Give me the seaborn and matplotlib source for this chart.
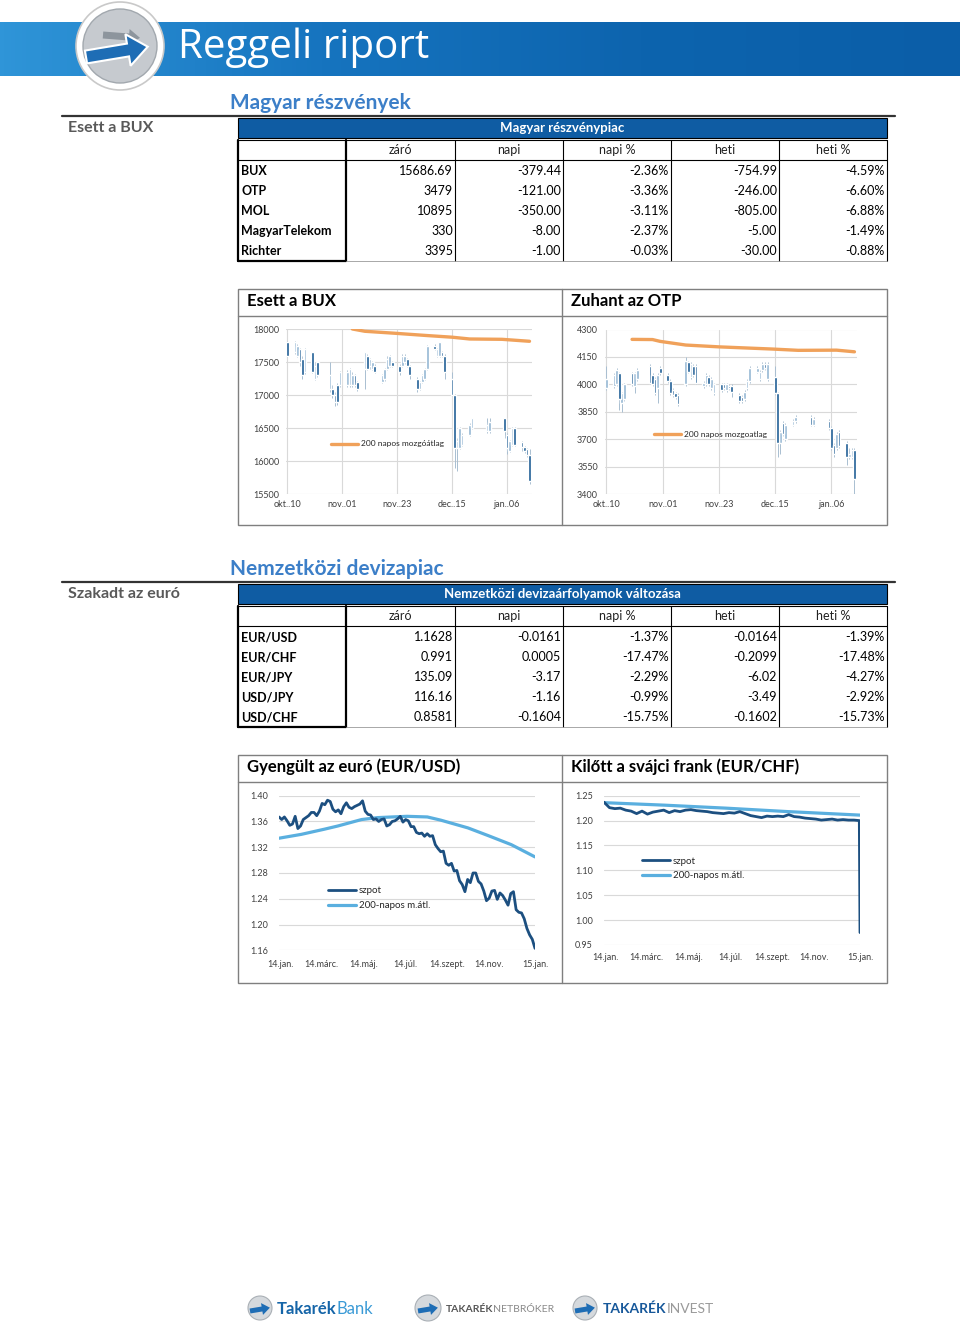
import numpy as np
import pandas as pd
import matplotlib
matplotlib.use("Agg")
import matplotlib.pyplot as plt
from matplotlib.patches import Rectangle, Circle, FancyArrow
from matplotlib.colors import LinearSegmentedColormap
import seaborn as sns

# ---------------- data ----------------
col_headers = ["záró", "napi", "napi %", "heti", "heti %"]

stock_names = ["BUX", "OTP", "MOL", "MagyarTelekom", "Richter"]
stock_zaro = ["15686.69", "3479", "10895", "330", "3395"]
stock_napi = ["-379.44", "-121.00", "-350.00", "-8.00", "-1.00"]
stock_napi_pct = ["-2.36%", "-3.36%", "-3.11%", "-2.37%", "-0.03%"]
stock_heti = ["-754.99", "-246.00", "-805.00", "-5.00", "-30.00"]
stock_heti_pct = ["-4.59%", "-6.60%", "-6.88%", "-1.49%", "-0.88%"]

fx_names = ["EUR/USD", "EUR/CHF", "EUR/JPY", "USD/JPY", "USD/CHF"]
fx_zaro = ["1.1628", "0.991", "135.09", "116.16", "0.8581"]
fx_napi = ["-0.0161", "0.0005", "-3.17", "-1.16", "-0.1604"]
fx_napi_pct = ["-1.37%", "-17.47%", "-2.29%", "-0.99%", "-15.75%"]
fx_heti = ["-0.0164", "-0.2099", "-6.02", "-3.49", "-0.1602"]
fx_heti_pct = ["-1.39%", "-17.48%", "-4.27%", "-2.92%", "-15.73%"]

trade_days = ["2014-10-10", "2014-10-13", "2014-10-14", "2014-10-15", "2014-10-16", "2014-10-17",
              "2014-10-20", "2014-10-21", "2014-10-22", "2014-10-27", "2014-10-28", "2014-10-29",
              "2014-10-30", "2014-10-31", "2014-11-03", "2014-11-04", "2014-11-05", "2014-11-06",
              "2014-11-07", "2014-11-10", "2014-11-11", "2014-11-12", "2014-11-13", "2014-11-14",
              "2014-11-17", "2014-11-18", "2014-11-19", "2014-11-20", "2014-11-21", "2014-11-24",
              "2014-11-25", "2014-11-26", "2014-11-27", "2014-11-28", "2014-12-01", "2014-12-02",
              "2014-12-03", "2014-12-04", "2014-12-05", "2014-12-08", "2014-12-09", "2014-12-10",
              "2014-12-11", "2014-12-12", "2014-12-15", "2014-12-16", "2014-12-17", "2014-12-18",
              "2014-12-19", "2014-12-22", "2014-12-23", "2014-12-29", "2014-12-30", "2015-01-05",
              "2015-01-06", "2015-01-07", "2015-01-08", "2015-01-09", "2015-01-12", "2015-01-13",
              "2015-01-14", "2015-01-15"]

bux_open = [17800, 17650, 17600, 17700, 17550, 17350, 17650, 17250, 17500, 17100, 17100, 17000,
            17150, 17150, 17150, 17150, 17150, 17300, 17200, 17400, 17600, 17450, 17400, 17450,
            17200, 17250, 17400, 17450, 17500, 17450, 17450, 17500, 17550, 17450, 17250, 17100,
            17200, 17250, 17400, 17750, 17600, 17600, 17650, 17600, 17250, 17000, 16200, 16200,
            16250, 16400, 16500, 16450, 16450, 16650, 16400, 16150, 16250, 16500, 16290, 16210,
            16190, 16090]
bux_high = [17820, 17820, 17780, 17720, 17600, 17720, 17660, 17500, 17510, 17500, 17150, 17050,
            17180, 17360, 17380, 17420, 17350, 17320, 17220, 17660, 17620, 17570, 17520, 17470,
            17320, 17420, 17600, 17610, 17520, 17470, 17620, 17620, 17570, 17460, 17280, 17220,
            17320, 17420, 17760, 17780, 17720, 17810, 17670, 17620, 17350, 17020, 16350, 16520,
            16420, 16580, 16660, 16650, 16650, 16660, 16420, 16320, 16520, 16520, 16300, 16230,
            16200, 16180]
bux_low = [17580, 17620, 17580, 17450, 17250, 17320, 17330, 17230, 17280, 17050, 16950, 16830,
           16850, 17130, 17130, 17130, 17120, 17130, 17060, 17100, 17380, 17400, 17380, 17330,
           17180, 17220, 17380, 17430, 17430, 17300, 17430, 17480, 17430, 17250, 17050, 17080,
           17180, 17230, 17380, 17680, 17580, 17580, 17580, 17250, 16980, 15900, 15850, 16180,
           16230, 16380, 16480, 16430, 16430, 16350, 16100, 16130, 16230, 16230, 16150, 16120,
           16060, 15650]
bux_close = [17600, 17800, 17750, 17500, 17300, 17700, 17350, 17450, 17300, 17300, 17000, 16900,
             16900, 17350, 17350, 17400, 17300, 17150, 17100, 17650, 17400, 17550, 17500, 17350,
             17300, 17400, 17550, 17600, 17450, 17350, 17600, 17600, 17450, 17300, 17100, 17200,
             17300, 17400, 17750, 17700, 17700, 17800, 17600, 17350, 17000, 16200, 16300, 16500,
             16400, 16550, 16650, 16550, 16600, 16450, 16200, 16300, 16500, 16250, 16210, 16160,
             16090, 15690]

otp_open = [3980, 3990, 4000, 4060, 3900, 3920, 4060, 3990, 4030, 4100, 4050, 4030,
            3980, 4090, 4050, 4020, 3970, 3950, 3940, 4000, 4120, 4040, 4100, 4100,
            3990, 4000, 4040, 3980, 3950, 4000, 4000, 3970, 3990, 3990, 3940, 3930,
            3920, 3980, 4020, 4070, 4030, 4080, 4110, 4030, 4040, 3950, 3680, 3790,
            3700, 3780, 3800, 3820, 3780, 3800, 3760, 3670, 3650, 3740, 3680, 3600,
            3600, 3640]
otp_high = [4100, 4060, 4090, 4070, 3960, 4010, 4070, 4070, 4090, 4110, 4060, 4040,
            4060, 4100, 4060, 4030, 3980, 3960, 3950, 4150, 4130, 4120, 4110, 4110,
            4020, 4060, 4050, 4040, 4010, 4010, 4010, 4010, 4000, 4000, 3950, 3940,
            3970, 4030, 4100, 4100, 4080, 4120, 4120, 4120, 4100, 3960, 3750, 3800,
            3790, 3810, 3830, 3830, 3820, 3810, 3770, 3680, 3740, 3750, 3690, 3650,
            3650, 3650]
otp_low = [3970, 3980, 3990, 3860, 3850, 3910, 3990, 3950, 4020, 4000, 3990, 3940,
           3900, 4050, 4010, 3940, 3930, 3920, 3880, 3990, 4060, 4030, 4040, 4000,
           3980, 3990, 3990, 3970, 3940, 3960, 3970, 3960, 3970, 3930, 3900, 3900,
           3910, 3970, 4010, 4060, 4020, 4070, 4080, 4020, 3940, 3600, 3620, 3720,
           3690, 3770, 3790, 3770, 3770, 3750, 3640, 3600, 3640, 3650, 3560, 3590,
           3590, 3400]
otp_close = [4030, 4050, 4080, 3920, 3950, 4000, 4000, 4060, 4080, 4010, 4000, 3950,
             4050, 4060, 4020, 3950, 3940, 3930, 3890, 4130, 4070, 4110, 4050, 4010,
             4010, 4050, 4000, 4030, 4000, 3970, 3980, 4000, 3980, 3960, 3910, 3910,
             3960, 4020, 4090, 4090, 4070, 4110, 4090, 4110, 3950, 3680, 3740, 3730,
             3780, 3800, 3820, 3780, 3810, 3760, 3650, 3620, 3730, 3660, 3600, 3620,
             3640, 3480]

bux_ma_dates = ["2014-11-05", "2014-11-10", "2014-11-22", "2014-12-05", "2014-12-15",
                "2014-12-22", "2015-01-04", "2015-01-15"]
bux_ma = [18005, 17970, 17940, 17905, 17880, 17853, 17848, 17818]
otp_ma_dates = ["2014-10-20", "2014-10-28", "2014-10-31", "2014-11-10", "2014-11-23",
                "2014-12-14", "2014-12-24", "2015-01-08", "2015-01-15"]
otp_ma = [4246, 4245, 4235, 4215, 4205, 4193, 4186, 4187, 4178]

candle_ticks = ["2014-10-10", "2014-11-01", "2014-11-23", "2014-12-15", "2015-01-06"]
candle_ticklabels = ["okt..10", "nov..01", "nov..23", "dec..15", "jan..06"]

eurusd_spot = [1.367, 1.363, 1.367, 1.361, 1.354, 1.356, 1.368, 1.349, 1.353, 1.363, 1.366, 1.369,
               1.374, 1.374, 1.369, 1.376, 1.388, 1.386, 1.393, 1.391, 1.379, 1.375, 1.378, 1.372,
               1.383, 1.389, 1.382, 1.380, 1.383, 1.385, 1.387, 1.392, 1.376, 1.371, 1.370, 1.363,
               1.364, 1.360, 1.363, 1.364, 1.353, 1.355, 1.360, 1.361, 1.364, 1.368, 1.359, 1.363,
               1.361, 1.352, 1.352, 1.343, 1.341, 1.342, 1.337, 1.341, 1.337, 1.338, 1.324, 1.318,
               1.313, 1.314, 1.295, 1.292, 1.295, 1.283, 1.284, 1.268, 1.262, 1.251, 1.270, 1.265,
               1.280, 1.280, 1.267, 1.263, 1.252, 1.237, 1.241, 1.252, 1.253, 1.239, 1.249, 1.245,
               1.238, 1.230, 1.248, 1.251, 1.223, 1.219, 1.218, 1.209, 1.194, 1.184, 1.177, 1.163]
eurusd_ma_dates = ["2014-01-02", "2014-02-04", "2014-03-10", "2014-03-30", "2014-05-04",
                   "2014-05-28", "2014-07-10", "2014-08-09", "2014-08-29", "2014-10-08",
                   "2014-11-07", "2014-12-11", "2015-01-15"]
eurusd_ma = [1.334, 1.340, 1.348, 1.353, 1.363, 1.366, 1.368, 1.367, 1.362, 1.350, 1.338,
             1.324, 1.305]

eurchf_spot = [1.237, 1.226, 1.224, 1.225, 1.221, 1.219, 1.214, 1.219, 1.213, 1.217, 1.219, 1.221,
               1.216, 1.220, 1.218, 1.221, 1.222, 1.220, 1.219, 1.218, 1.216, 1.215, 1.214, 1.216,
               1.215, 1.218, 1.214, 1.210, 1.208, 1.206, 1.209, 1.208, 1.209, 1.208, 1.212, 1.208,
               1.207, 1.205, 1.204, 1.203, 1.201, 1.202, 1.203, 1.201, 1.202, 1.201, 1.201, 1.200,
               0.975]
eurchf_ma_dates = ["2014-01-02", "2014-04-01", "2014-07-01", "2014-10-01", "2015-01-15"]
eurchf_ma = [1.236, 1.231, 1.225, 1.218, 1.211]

fx_ticks = ["2014-01-04", "2014-03-06", "2014-05-07", "2014-07-07", "2014-09-07",
            "2014-11-08", "2015-01-15"]
fx_ticklabels = ["14.jan.", "14.márc.", "14.máj.", "14.júl.", "14.szept.", "14.nov.", "15.jan."]

# ---------------- style ----------------
sns.set_theme(style="white")
plt.rcParams["font.family"] = ["Lato", "DejaVu Sans"]

W, H = 960, 1329
BLUE = "#0f5ca3"
TITLE_BLUE = "#3c7fc8"
DARK_C = "#1c5c93"
LIGHT_C = "#94b6d3"
WICK = "#a9bfd1"
ORANGE = "#f0a15a"
SPOT = "#1c4f80"
MA = "#5aafdf"
GRID = "#d9d9d9"

fig = plt.figure(figsize=(W / 100, H / 100), dpi=100)
bg = fig.add_axes([0, 0, 1, 1])
bg.axis("off")


def px_axes(x0, y0, x1, y1):
    return fig.add_axes([x0 / W, 1 - y1 / H, (x1 - x0) / W, (y1 - y0) / H])


# ---------------- header ----------------
hdr = LinearSegmentedColormap.from_list("hdr", ["#2f95d8", "#1674bf", "#0d64ae", "#0b5ea8"])
bg.imshow(np.linspace(0, 1, 256)[None, :], extent=[0, W, 76, 22], aspect="auto", cmap=hdr, zorder=1)
bg.add_patch(Circle((120, 46), 44, fc="white", ec="#c9c9c9", lw=1.2, zorder=2))
bg.add_patch(Circle((120, 46), 37, fc="#c6cacf", ec="#a2a8ae", lw=1, zorder=3))
bg.add_patch(FancyArrow(103, 35, 26, 2, width=7, head_width=16, head_length=11,
                        fc="#8d959d", ec="none", zorder=4))
bg.add_patch(FancyArrow(86, 57, 42, -7, width=13, head_width=32, head_length=20,
                        fc="#1e6db5", ec="white", lw=1.5, zorder=5))
bg.text(178, 48, "Reggeli riport", color="white", fontsize=29, va="center",
        family=["Open Sans", "DejaVu Sans"], zorder=6)


# ---------------- tables ----------------
col_edges = [238, 346, 455, 563, 671, 779, 887]


def draw_table(top, title, names, columns):
    bg.add_patch(Rectangle((238, top), 649, 20, fc=BLUE, ec="black", lw=0.8, zorder=2))
    bg.text(562.5, top + 10, title, color="white", fontsize=9.5, fontweight="bold",
            ha="center", va="center", zorder=3)
    # column header row
    hy0, hy1 = top + 22, top + 42
    bg.plot([238, 887], [hy0, hy0], color="black", lw=0.8)
    bg.plot([238, 887], [hy1, hy1], color="black", lw=0.8)
    for k, lab in enumerate(col_headers):
        cx = (col_edges[k + 1] + col_edges[k + 2]) / 2
        bg.text(cx, top + 32, lab, fontsize=9, ha="center", va="center", color="#222222")
    bottom = top + 43 + 20 * len(names)
    for k, x in enumerate(col_edges):
        lw = 1.6 if k in (0, 1) else 0.8
        bg.plot([x, x], [hy0, bottom], color="black", lw=lw)
    bg.plot([238, 346], [bottom, bottom], color="black", lw=1.6)
    bg.plot([346, 887], [bottom, bottom], color="#9a9a9a", lw=0.6)
    for i, name in enumerate(names):
        cy = top + 53 + 20 * i
        bg.text(241, cy, name, fontsize=9, fontweight="bold", va="center", color="black")
        for k, col in enumerate(columns):
            bg.text(col_edges[k + 2] - 2, cy, col[i], fontsize=9, ha="right",
                    va="center", color="black")


def section(y_title, title, y_line, label):
    bg.text(230, y_title, title, color=TITLE_BLUE, fontsize=15, fontweight="bold", va="center")
    bg.plot([62, 895], [y_line, y_line], color="#333333", lw=1.6)
    bg.text(68, y_line + 12, label, color="#595959", fontsize=11.5, fontweight="bold", va="center")


section(103, "Magyar részvények", 116, "Esett a BUX")
draw_table(118, "Magyar részvénypiac", stock_names,
           [stock_zaro, stock_napi, stock_napi_pct, stock_heti, stock_heti_pct])
section(569, "Nemzetközi devizapiac", 582, "Szakadt az euró")
draw_table(584, "Nemzetközi devizaárfolyamok változása", fx_names,
           [fx_zaro, fx_napi, fx_napi_pct, fx_heti, fx_heti_pct])


# ---------------- chart boxes ----------------
def chart_box(top, bottom, left_title, right_title):
    bg.add_patch(Rectangle((238, top), 649, bottom - top, fc="none", ec="#7f7f7f", lw=1.0))
    bg.plot([238, 887], [top + 27, top + 27], color="#7f7f7f", lw=1.0)
    bg.plot([562, 562], [top, bottom], color="#7f7f7f", lw=1.0)
    bg.text(247, top + 12, left_title, fontsize=12, fontweight="bold", va="center", color="black")
    bg.text(571, top + 12, right_title, fontsize=12, fontweight="bold", va="center", color="black")


chart_box(289, 525, "Esett a BUX", "Zuhant az OTP")
chart_box(755, 983, "Gyengült az euró (EUR/USD)", "Kilőtt a svájci frank (EUR/CHF)")


def style_axes(ax, ypad, xpad, xgrid):
    for s in ax.spines.values():
        s.set_visible(False)
    ax.set_facecolor("none")
    ax.grid(True, axis="y", color=GRID, lw=0.8)
    if xgrid:
        ax.grid(True, axis="x", color=GRID, lw=0.8)
    ax.set_axisbelow(True)
    ax.tick_params(axis="both", length=0, labelsize=6.5, colors="#404040")
    ax.tick_params(axis="y", pad=ypad)
    ax.tick_params(axis="x", pad=xpad)
    ax.set_xlabel("")
    ax.set_ylabel("")


def candle_chart(ax, o, h, l, c, ma_dates, ma, ma_label, ylim, ystep, legend_xy):
    d = pd.to_datetime(trade_days)
    o, h, l, c = map(np.asarray, (o, h, l, c))
    up = c >= o
    ax.vlines(d, l, h, color=WICK, lw=0.7, zorder=2)
    ax.bar(d[up], (c - o)[up], bottom=o[up], width=1.05, color=LIGHT_C, zorder=3)
    ax.bar(d[~up], (o - c)[~up], bottom=c[~up], width=1.05, color=DARK_C, zorder=3)
    sns.lineplot(x=pd.to_datetime(ma_dates), y=ma, ax=ax, color=ORANGE, lw=2.4,
                 label=ma_label, zorder=4)
    start = pd.Timestamp(trade_days[0])
    ax.set_xlim(start - pd.Timedelta(hours=14), start + pd.Timedelta(days=98))
    ax.set_ylim(*ylim)
    ax.set_yticks(np.arange(ylim[0], ylim[1] + 1, ystep))
    ax.set_xticks(pd.to_datetime(candle_ticks))
    ax.set_xticklabels(candle_ticklabels)
    style_axes(ax, 5, 4, True)
    ax.legend(loc="center left", bbox_to_anchor=legend_xy, frameon=False, fontsize=6,
              handlelength=3.2, handletextpad=0.4, borderaxespad=0, borderpad=0)


ax_bux = px_axes(286, 329.3, 532, 494)
candle_chart(ax_bux, bux_open, bux_high, bux_low, bux_close, bux_ma_dates, bux_ma,
             "200 napos mozgóátlag", (15500, 18000), 500, (0.183, 0.304))

ax_otp = px_axes(605, 329.5, 857, 494)
candle_chart(ax_otp, otp_open, otp_high, otp_low, otp_close, otp_ma_dates, otp_ma,
             "200 napos mozgoatlag", (3400, 4300), 150, (0.195, 0.363))


def fx_chart(ax, spot_dates, spot, ma_dates, ma, ylim, yticks, legend_xy, xpad):
    sns.lineplot(x=spot_dates, y=spot, ax=ax, color=SPOT, lw=2.0, label="szpot", zorder=4)
    sns.lineplot(x=pd.to_datetime(ma_dates), y=ma, ax=ax, color=MA, lw=2.3,
                 label="200-napos m.átl.", zorder=3)
    ax.set_xlim(pd.Timestamp("2014-01-02"), pd.Timestamp("2015-01-15"))
    ax.set_ylim(*ylim)
    ax.set_yticks(yticks)
    ax.set_yticklabels([f"{v:.2f}" for v in yticks])
    ax.set_xticks(pd.to_datetime(fx_ticks))
    ax.set_xticklabels(fx_ticklabels)
    style_axes(ax, 8, xpad, False)
    ax.legend(loc="center left", bbox_to_anchor=legend_xy, frameon=False, fontsize=7,
              handlelength=2.9, handletextpad=0.3, labelspacing=0.6, borderaxespad=0,
              borderpad=0)


ax_usd = px_axes(279, 795.7, 535, 950.3)
usd_dates = pd.date_range("2014-01-02", "2015-01-15", periods=len(eurusd_spot))
fx_chart(ax_usd, usd_dates, eurusd_spot, eurusd_ma_dates, eurusd_ma, (1.16, 1.40),
         [1.16, 1.20, 1.24, 1.28, 1.32, 1.36, 1.40], (0.19, 0.338), 7)

ax_chf = px_axes(604, 795.7, 860, 945)
chf_dates = pd.date_range("2014-01-02", "2015-01-14", periods=len(eurchf_spot) - 1)
chf_dates = chf_dates.append(pd.DatetimeIndex(["2015-01-15"]))
fx_chart(ax_chf, chf_dates, eurchf_spot, eurchf_ma_dates, eurchf_ma, (0.95, 1.25),
         [0.95, 1.00, 1.05, 1.10, 1.15, 1.20, 1.25], (0.148, 0.512), 6)

# ---------------- footer logos ----------------
for cx, r in [(260, 12), (428, 13), (585, 12)]:
    bg.add_patch(Circle((cx, 1308), r, fc="#d5d9dd", ec="#aab0b6", lw=0.8))
    bg.add_patch(FancyArrow(cx - 10, 1311, 12, -2, width=5, head_width=12, head_length=8,
                            fc="#1e6db5", ec="none"))


def two_tone(x, first, second, c1, c2, size):
    t = bg.text(x, 1309, first, color=c1, fontsize=size, fontweight="bold", va="center")
    bg.annotate(second, xy=(1, 0.5), xycoords=t, va="center", ha="left",
                color=c2, fontsize=size)


two_tone(277, "Takarék", "Bank", "#1565a8", "#3a9ad6", 12)
two_tone(446, "TAKARÉK", "NETBRÓKER", "#555555", "#8a8a8a", 7.5)
two_tone(603, "TAKARÉK", "INVEST", "#17589a", "#9a9a9a", 10)

bg.set_xlim(0, W)
bg.set_ylim(H, 0)

fig.savefig("out.png", dpi=100)
